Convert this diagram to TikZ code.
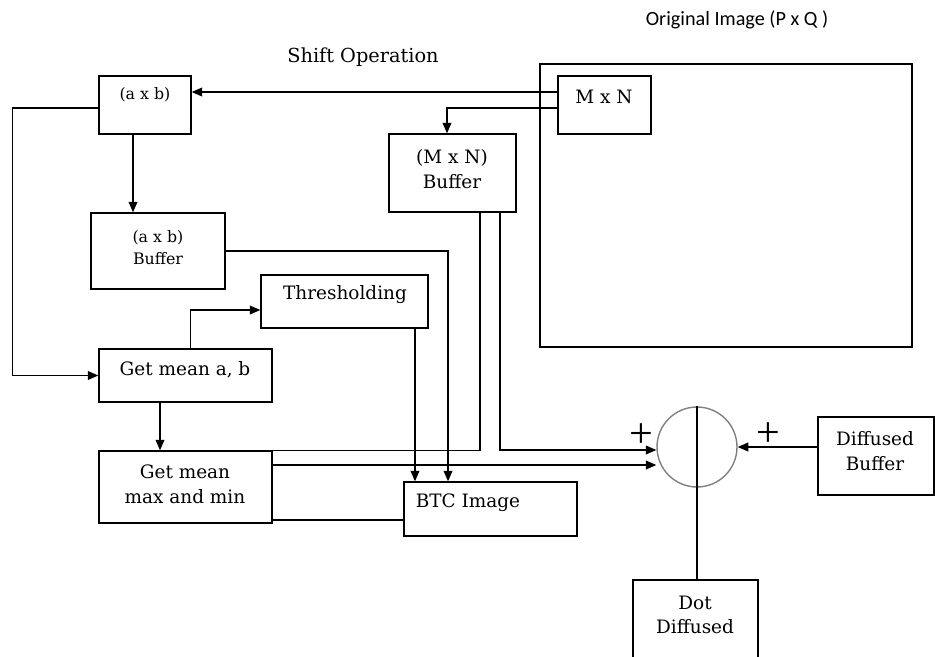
\documentclass[tikz,border=0pt]{standalone}
\usepackage{fontspec}
\setmainfont{DejaVu Serif}
\newfontfamily\titlefont{Carlito}
\newfontfamily\plusfont{Liberation Serif}
\usetikzlibrary{arrows.meta}
\begin{document}
\begin{tikzpicture}[x=0.02cm,y=-0.02cm,
    box/.style={draw,thick,rectangle,inner sep=0pt},
    txt/.style={align=center,inner sep=0pt,font=\fontsize{10.5}{14}\selectfont},
    wire/.style={thick},
    arr/.style={thick,-{Triangle[length=6pt,width=5pt]}}]
  \useasboundingbox (0,0) rectangle (935,656);
  % boxes
  \node[box,minimum width=7.44cm,minimum height=5.66cm] (orig) at (726,205.5) {};
  \node[box,minimum width=1.86cm,minimum height=1.16cm] (mn) at (604.5,105) {};
  \node[box,minimum width=1.84cm,minimum height=1.16cm] (axb) at (145,105) {};
  \node[box,minimum width=2.54cm,minimum height=1.56cm] (mnbuf) at (452.5,173) {};
  \node[box,minimum width=2.68cm,minimum height=1.52cm] (axbbuf) at (158,251) {};
  \node[box,minimum width=3.34cm,minimum height=1.06cm] (thr) at (344.5,301.5) {};
  \node[box,minimum width=3.46cm,minimum height=1.06cm] (meanab) at (185.5,375.5) {};
  \node[box,minimum width=3.46cm,minimum height=1.44cm] (meanmm) at (185.5,487) {};
  \node[box,minimum width=3.46cm,minimum height=1.08cm] (btc) at (490.5,509) {};
  \node[box,minimum width=2.32cm,minimum height=1.56cm] (difbuf) at (876,456) {};
  \node[box,minimum width=2.50cm,minimum height=2.40cm] (dot) at (695.5,640) {};
  \node[draw=gray,thick,circle,minimum size=1.6cm,inner sep=0pt] (sum) at (697,447) {};
  % texts
  \begin{scope}[every node/.style={txt}]
    \node[font=\titlefont\fontsize{11.5}{14}\selectfont] (origtxt) at (737,20) {Original Image (P x Q )};
    \node[font=\fontsize{11}{14}\selectfont] (shifttxt) at (363,57) {Shift Operation};
    \node (mntxt) at (604,97) {M x N};
    \node[font=\fontsize{9}{12.5}\selectfont] (axbtxt) at (145,95) {(a x b)};
    \node (mnbuftxt) at (452,169) {(M x N)\\Buffer};
    \node[font=\fontsize{9}{12.5}\selectfont] (axbbuftxt) at (158,248) {(a x b)\\Buffer};
    \node (thrtxt) at (345,295) {Thresholding};
    \node (meanabtxt) at (185,370) {Get mean a, b};
    \node (meanmmtxt) at (185,484) {Get mean\\max and min};
    \node (btctxt) at (468,503) {BTC Image};
    \node (diftxt) at (875,451) {Diffused\\Buffer};
    \node (dottxt) at (695,615) {Dot\\Diffused};
    \node[font=\plusfont\fontsize{24}{24}\selectfont] (plusl) at (641,436) {+};
    \node[font=\plusfont\fontsize{24}{24}\selectfont] (plusr) at (768,435) {+};
  \end{scope}
  % connectors
  \draw[arr] ([yshift=0.26cm]mn.west) -- ([yshift=0.26cm]axb.east);
  \draw[arr] ([yshift=-0.06cm]mn.west) -| ([xshift=-0.11cm]mnbuf.north);
  \draw[arr] ([yshift=-0.06cm]axb.west) -- ++(-86,0) |- (meanab.west);
  \draw[arr] ([xshift=-0.24cm]axb.south) -- ([xshift=-0.24cm]axb.south |- axbbuf.north);
  \draw[arr] (axbbuf.east) -| ([xshift=-0.85cm]btc.north);
  \draw[arr] ([xshift=0.1cm]meanab.north) |- ([yshift=-0.17cm]thr.west);
  \draw[arr] ([xshift=1.41cm]thr.south) -- ([xshift=1.41cm]thr.south |- btc.north);
  \draw[arr] ([xshift=-0.51cm]meanab.south) -- ([xshift=-0.51cm]meanab.south |- meanmm.north);
  \draw[wire] ([xshift=0.55cm]mnbuf.south) |- (meanmm.north east);
  \draw[arr] ([xshift=0.95cm]mnbuf.south) |- ([yshift=-0.06cm]sum.west);
  \draw[arr] ([yshift=0.44cm]meanmm.east) -- ([yshift=0.44cm]meanmm.east -| sum.west);
  \draw[wire] ([yshift=-0.22cm]btc.west) -- ([yshift=-0.22cm]btc.west -| meanmm.east);
  \draw[arr] (sum.east -| difbuf.west) -- (sum.east);
  \draw[wire] (sum.north) -- (sum.north |- dot.north);
\end{tikzpicture}
\end{document}
